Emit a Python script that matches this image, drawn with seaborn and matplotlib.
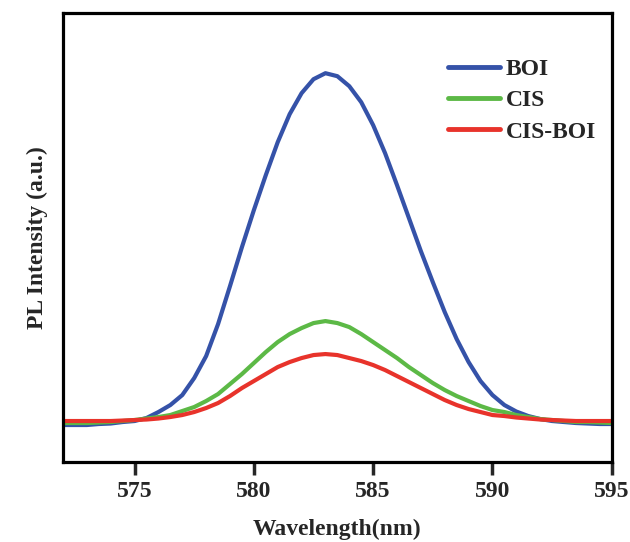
import numpy as np
import pandas as pd
import matplotlib
matplotlib.use("Agg")
import matplotlib.pyplot as plt
import seaborn as sns

wavelength = [572.0 + 0.5 * i for i in range(47)]

boi = [37, 37, 37, 38, 38.5, 40, 41, 44, 50, 57, 67, 84, 106, 138, 176, 215,
       252, 287, 320, 348, 369, 383, 389, 386, 376, 360, 337, 309, 277, 244,
       211, 180, 150, 123, 100, 81, 67, 57, 50.5, 46, 43, 41, 40, 39, 38.5, 38, 38]

cis = [39, 39, 39, 39.5, 40, 41, 42, 43.5, 45, 47, 51, 55, 61, 68, 78, 88,
       99, 110, 120, 128, 134, 139, 141, 139, 135, 128, 120, 112, 104, 95,
       87, 79, 72, 66, 61, 56, 52, 50, 47, 45, 43, 42, 41, 40, 40, 39.5, 39]

cis_boi = [41, 41, 41, 41, 41, 41.5, 42, 42.5, 43.5, 45, 47, 50, 54, 59, 66, 74,
           81, 88, 95, 100, 104, 107, 108, 107, 104, 101, 97, 92, 86, 80,
           74, 68, 62, 57, 53, 50, 47, 46, 44.5, 43.5, 42.5, 42, 41.5, 41, 41, 41, 41]

series_names = ["BOI", "CIS", "CIS-BOI"]
series_colors = ["#3552a8", "#5cb946", "#e8332b"]
x_ticks = [575, 580, 585, 590, 595]

df = pd.concat([
    pd.DataFrame({"Wavelength": wavelength, "Intensity": vals, "Sample": name})
    for name, vals in zip(series_names, [boi, cis, cis_boi])
], ignore_index=True)

sns.set_style("white")
FAM = ["Liberation Serif", "DejaVu Serif"]
plt.rcParams["font.family"] = FAM
plt.rcParams["font.weight"] = "bold"

fig = plt.figure(figsize=(6.3, 5.42), dpi=100)
ax = fig.add_axes([0.1, 0.1476, 0.871, 0.828])

sns.lineplot(data=df, x="Wavelength", y="Intensity", hue="Sample",
             palette=dict(zip(series_names, series_colors)), linewidth=3,
             ax=ax, legend=True)

ax.set_xlim(572, 595)
ax.set_ylim(0, 449)
ax.set_xticks(x_ticks)
ax.set_xticklabels([str(t) for t in x_ticks], fontsize=17, fontweight="bold", family=FAM)
ax.set_yticks([])
ax.tick_params(axis="x", direction="out", length=9, width=2.5, pad=5, bottom=True)
for s in ax.spines.values():
    s.set_linewidth(2.3)
    s.set_color("black")

ax.set_xlabel("Wavelength(nm)", fontsize=17, fontweight="bold", family=FAM, labelpad=12)
ax.set_ylabel("PL Intensity (a.u.)", fontsize=17, fontweight="bold", family=FAM, labelpad=11)

leg = ax.legend(loc="upper left", bbox_to_anchor=(0.663, 0.947), frameon=False,
                handlelength=2.2, handletextpad=0.25, labelspacing=0.42,
                prop={"family": FAM, "weight": "bold", "size": 17})
for line in leg.get_lines():
    line.set_linewidth(3.5)

fig.savefig("out.png", dpi=100)
